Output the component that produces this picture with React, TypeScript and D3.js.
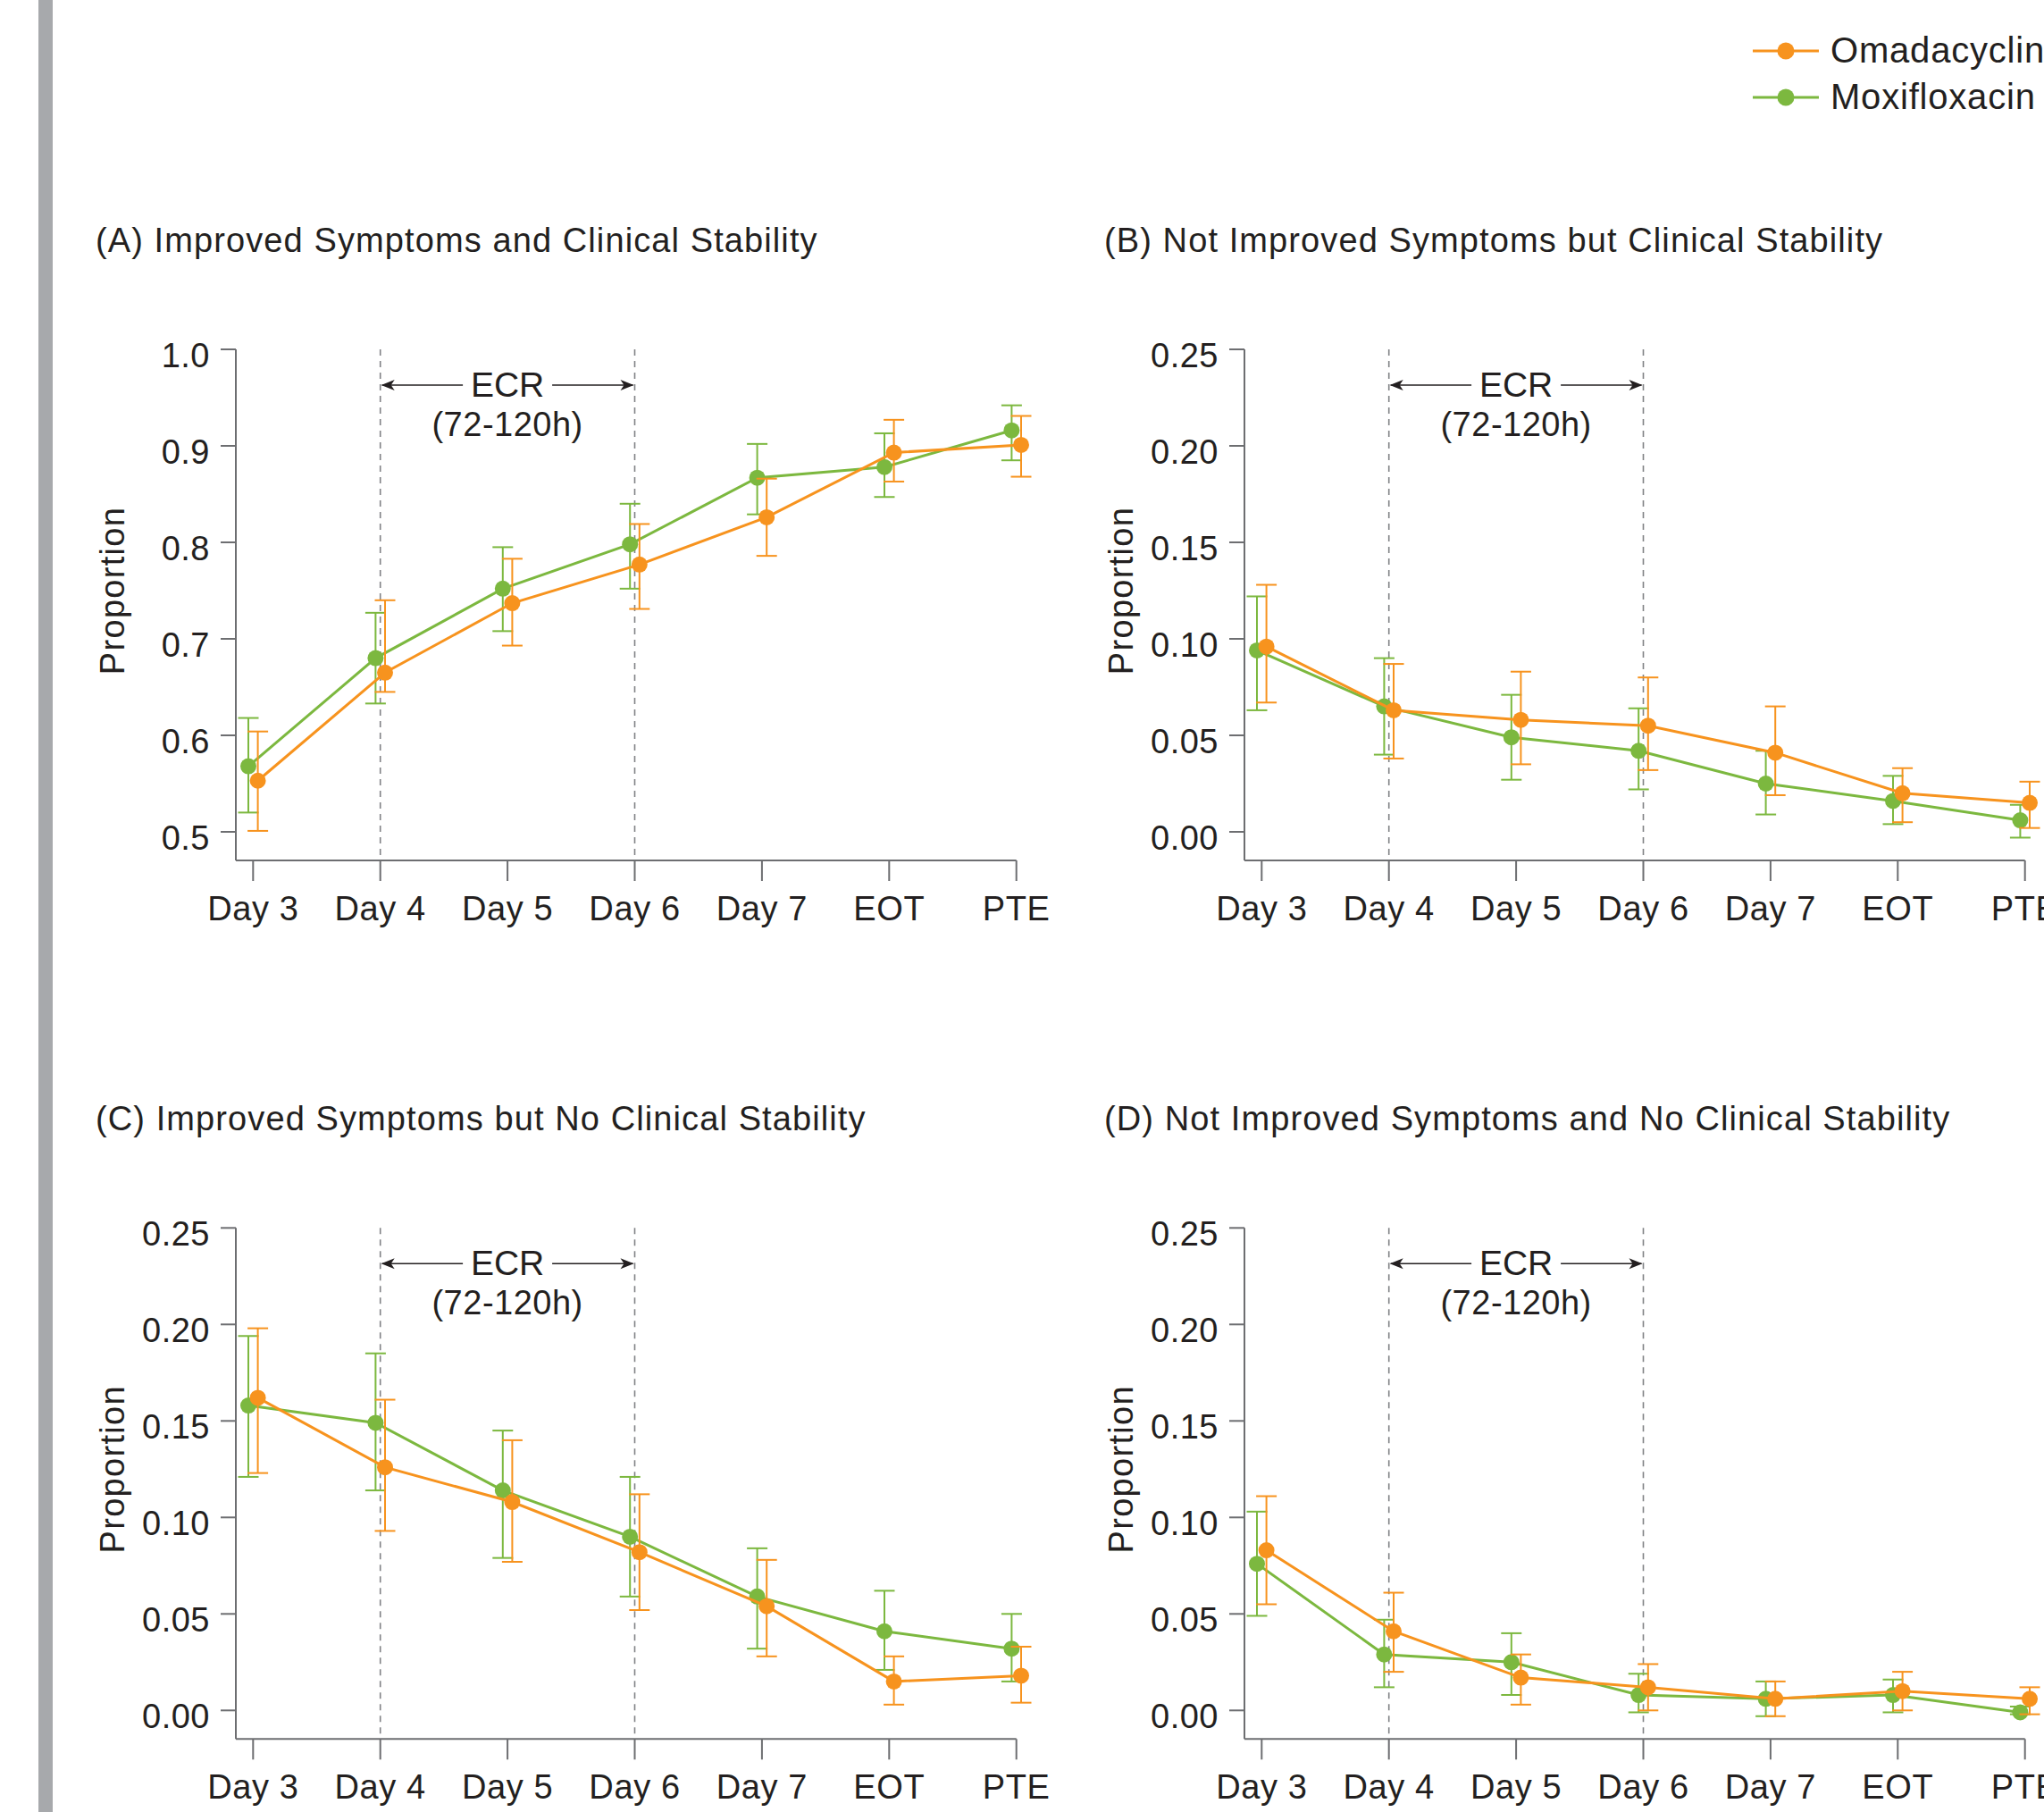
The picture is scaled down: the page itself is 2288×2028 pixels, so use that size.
import * as d3 from "d3";

// visit labels
const DAYS = ["Day 3", "Day 4", "Day 5", "Day 6", "Day 7", "EOT", "PTE"];

// [mean, lower CI, upper CI] per visit
const A_OMA = [[0.553, 0.501, 0.604], [0.665, 0.645, 0.740], [0.737, 0.693, 0.783], [0.777, 0.731, 0.819], [0.826, 0.786, 0.866], [0.893, 0.863, 0.927], [0.901, 0.868, 0.931]];
const A_MOX = [[0.568, 0.520, 0.618], [0.680, 0.633, 0.727], [0.752, 0.708, 0.795], [0.798, 0.752, 0.840], [0.867, 0.829, 0.902], [0.878, 0.847, 0.913], [0.916, 0.885, 0.942]];

const B_OMA = [[0.096, 0.067, 0.128], [0.063, 0.038, 0.087], [0.058, 0.035, 0.083], [0.055, 0.032, 0.080], [0.041, 0.019, 0.065], [0.020, 0.005, 0.033], [0.015, 0.002, 0.026]];
const B_MOX = [[0.094, 0.063, 0.122], [0.065, 0.040, 0.090], [0.049, 0.027, 0.071], [0.042, 0.022, 0.064], [0.025, 0.009, 0.042], [0.016, 0.004, 0.029], [0.006, -0.003, 0.014]];

const C_OMA = [[0.162, 0.123, 0.198], [0.126, 0.093, 0.161], [0.108, 0.077, 0.140], [0.082, 0.052, 0.112], [0.054, 0.028, 0.078], [0.015, 0.003, 0.028], [0.018, 0.004, 0.033]];
const C_MOX = [[0.158, 0.121, 0.194], [0.149, 0.114, 0.185], [0.114, 0.079, 0.145], [0.090, 0.059, 0.121], [0.059, 0.032, 0.084], [0.041, 0.021, 0.062], [0.032, 0.015, 0.050]];

const D_OMA = [[0.083, 0.055, 0.111], [0.041, 0.020, 0.061], [0.017, 0.003, 0.029], [0.012, 0.000, 0.024], [0.006, -0.003, 0.015], [0.010, 0.000, 0.020], [0.006, -0.002, 0.012]];
const D_MOX = [[0.076, 0.049, 0.103], [0.029, 0.012, 0.047], [0.025, 0.008, 0.040], [0.008, -0.001, 0.019], [0.006, -0.003, 0.015], [0.008, -0.001, 0.016], [-0.001, -0.002, 0.002]];

const TICKS_A = [0.5, 0.6, 0.7, 0.8, 0.9, 1.0];
const TICKS_SMALL = [0, 0.05, 0.1, 0.15, 0.2, 0.25];

const ORANGE = "#f7931e";
const GREEN = "#7cb83f";
const INK = "#231f20";
const AXIS = "#6d6e71";
const FONT = "'Liberation Sans', Arial, Helvetica, sans-serif";

const PLOT_H = 540; // first to last y tick
const AXIS_Y = 572; // x axis line below top tick
const X0 = 19.3; // Day 3 from y axis
const STEP = 142.4;
const DODGE = 5.3;

type Row = number[];

function Series({ data, x, y, dx, color }: { data: Row[]; x: any; y: any; dx: number; color: string }) {
  const line = d3
    .line<Row>()
    .x((d, i) => x(DAYS[i]) + dx)
    .y((d) => y(d[0]));
  return (
    <g>
      <path d={line(data) || ""} fill="none" stroke={color} strokeWidth={3} />
      {data.map((d, i) => {
        const cx = x(DAYS[i]) + dx;
        return (
          <g key={i} stroke={color} strokeWidth={2}>
            <line x1={cx} x2={cx} y1={y(d[1])} y2={y(d[2])} />
            <line x1={cx - 11.5} x2={cx + 11.5} y1={y(d[1])} y2={y(d[1])} />
            <line x1={cx - 11.5} x2={cx + 11.5} y1={y(d[2])} y2={y(d[2])} />
          </g>
        );
      })}
      {data.map((d, i) => (
        <circle key={"c" + i} cx={x(DAYS[i]) + dx} cy={y(d[0])} r={9} fill={color} />
      ))}
    </g>
  );
}

function Panel({ ox, oy, title, ticks, fmt, oma, mox }: { ox: number; oy: number; title: string; ticks: number[]; fmt: string; oma: Row[]; mox: Row[] }) {
  const x = d3
    .scalePoint<string>()
    .domain(DAYS)
    .range([ox + X0, ox + X0 + STEP * (DAYS.length - 1)]);
  const y = d3
    .scaleLinear()
    .domain([ticks[0], ticks[ticks.length - 1]])
    .range([oy + PLOT_H, oy]);
  const f = d3.format(fmt);
  const axisY = oy + AXIS_Y;
  const d4 = x("Day 4") as number;
  const d5 = x("Day 5") as number;
  const d6 = x("Day 6") as number;
  const ay = oy + 40;

  return (
    <g fontFamily={FONT} fill={INK}>
      <text x={ox - 157} y={oy - 109} fontSize={38} letterSpacing={1.1}>
        {title}
      </text>
      <text transform={`translate(${ox - 125},${oy + PLOT_H / 2}) rotate(-90)`} textAnchor="middle" fontSize={38} letterSpacing={1.3}>
        Proportion
      </text>

      {/* y axis */}
      <line x1={ox} x2={ox} y1={oy} y2={axisY} stroke={AXIS} strokeWidth={2} />
      {ticks.map((t) => (
        <g key={t}>
          <line x1={ox - 17} x2={ox} y1={y(t)} y2={y(t)} stroke={AXIS} strokeWidth={2} />
          <text x={ox - 29} y={y(t) + 20} textAnchor="end" fontSize={38} letterSpacing={0.5}>
            {f(t)}
          </text>
        </g>
      ))}

      {/* x axis */}
      <line x1={ox} x2={x("PTE")} y1={axisY} y2={axisY} stroke={AXIS} strokeWidth={2} />
      {DAYS.map((d) => (
        <g key={d}>
          <line x1={x(d)} x2={x(d)} y1={axisY} y2={axisY + 23} stroke={AXIS} strokeWidth={2} />
          <text x={x(d)} y={oy + 639} textAnchor="middle" fontSize={38} letterSpacing={0.6}>
            {d}
          </text>
        </g>
      ))}

      {/* ECR window */}
      {[d4, d6].map((v) => (
        <line key={v} x1={v} x2={v} y1={oy} y2={axisY} stroke="#808285" strokeWidth={1.6} strokeDasharray="7,6" />
      ))}
      <g stroke={INK} strokeWidth={1.6}>
        <line x1={d4 + 2} x2={d5 - 50} y1={ay} y2={ay} />
        <line x1={d5 + 50} x2={d6 - 2} y1={ay} y2={ay} />
      </g>
      <path d={`M${d4 + 1},${ay} L${d4 + 16},${ay - 6} L${d4 + 12},${ay} L${d4 + 16},${ay + 6} Z`} fill={INK} />
      <path d={`M${d6 - 1},${ay} L${d6 - 16},${ay - 6} L${d6 - 12},${ay} L${d6 - 16},${ay + 6} Z`} fill={INK} />
      <text x={d5} y={oy + 53} textAnchor="middle" fontSize={39}>
        ECR
      </text>
      <text x={d5} y={oy + 97} textAnchor="middle" fontSize={38} letterSpacing={0.5}>
        (72-120h)
      </text>

      <Series data={mox} x={x} y={y} dx={-DODGE} color={GREEN} />
      <Series data={oma} x={x} y={y} dx={DODGE} color={ORANGE} />
    </g>
  );
}

export default function App() {
  const legend = [
    { name: "Omadacycline", color: ORANGE, y: 57 },
    { name: "Moxifloxacin", color: GREEN, y: 109 },
  ];
  return (
    <svg
      width={2288}
      height={2028}
      style={{ position: "absolute", left: 0, top: 0, background: "#fff" }}
    >
      <rect x={43} y={0} width={16} height={2028} fill="#a7a9ac" />

      {legend.map((l) => (
        <g key={l.name}>
          <line x1={1962} x2={2036} y1={l.y} y2={l.y} stroke={l.color} strokeWidth={3} />
          <circle cx={1999} cy={l.y} r={9.5} fill={l.color} />
          <text x={2049} y={l.y + 13} fontSize={40} fontFamily={FONT} fill={INK} letterSpacing={0.8}>
            {l.name}
          </text>
        </g>
      ))}

      <Panel ox={264} oy={391} title="(A) Improved Symptoms and Clinical Stability" ticks={TICKS_A} fmt=".1f" oma={A_OMA} mox={A_MOX} />
      <Panel ox={1393} oy={391} title="(B) Not Improved Symptoms but Clinical Stability" ticks={TICKS_SMALL} fmt=".2f" oma={B_OMA} mox={B_MOX} />
      <Panel ox={264} oy={1374.3} title="(C) Improved Symptoms but No Clinical Stability" ticks={TICKS_SMALL} fmt=".2f" oma={C_OMA} mox={C_MOX} />
      <Panel ox={1393} oy={1374.3} title="(D) Not Improved Symptoms and No Clinical Stability" ticks={TICKS_SMALL} fmt=".2f" oma={D_OMA} mox={D_MOX} />
    </svg>
  );
}
